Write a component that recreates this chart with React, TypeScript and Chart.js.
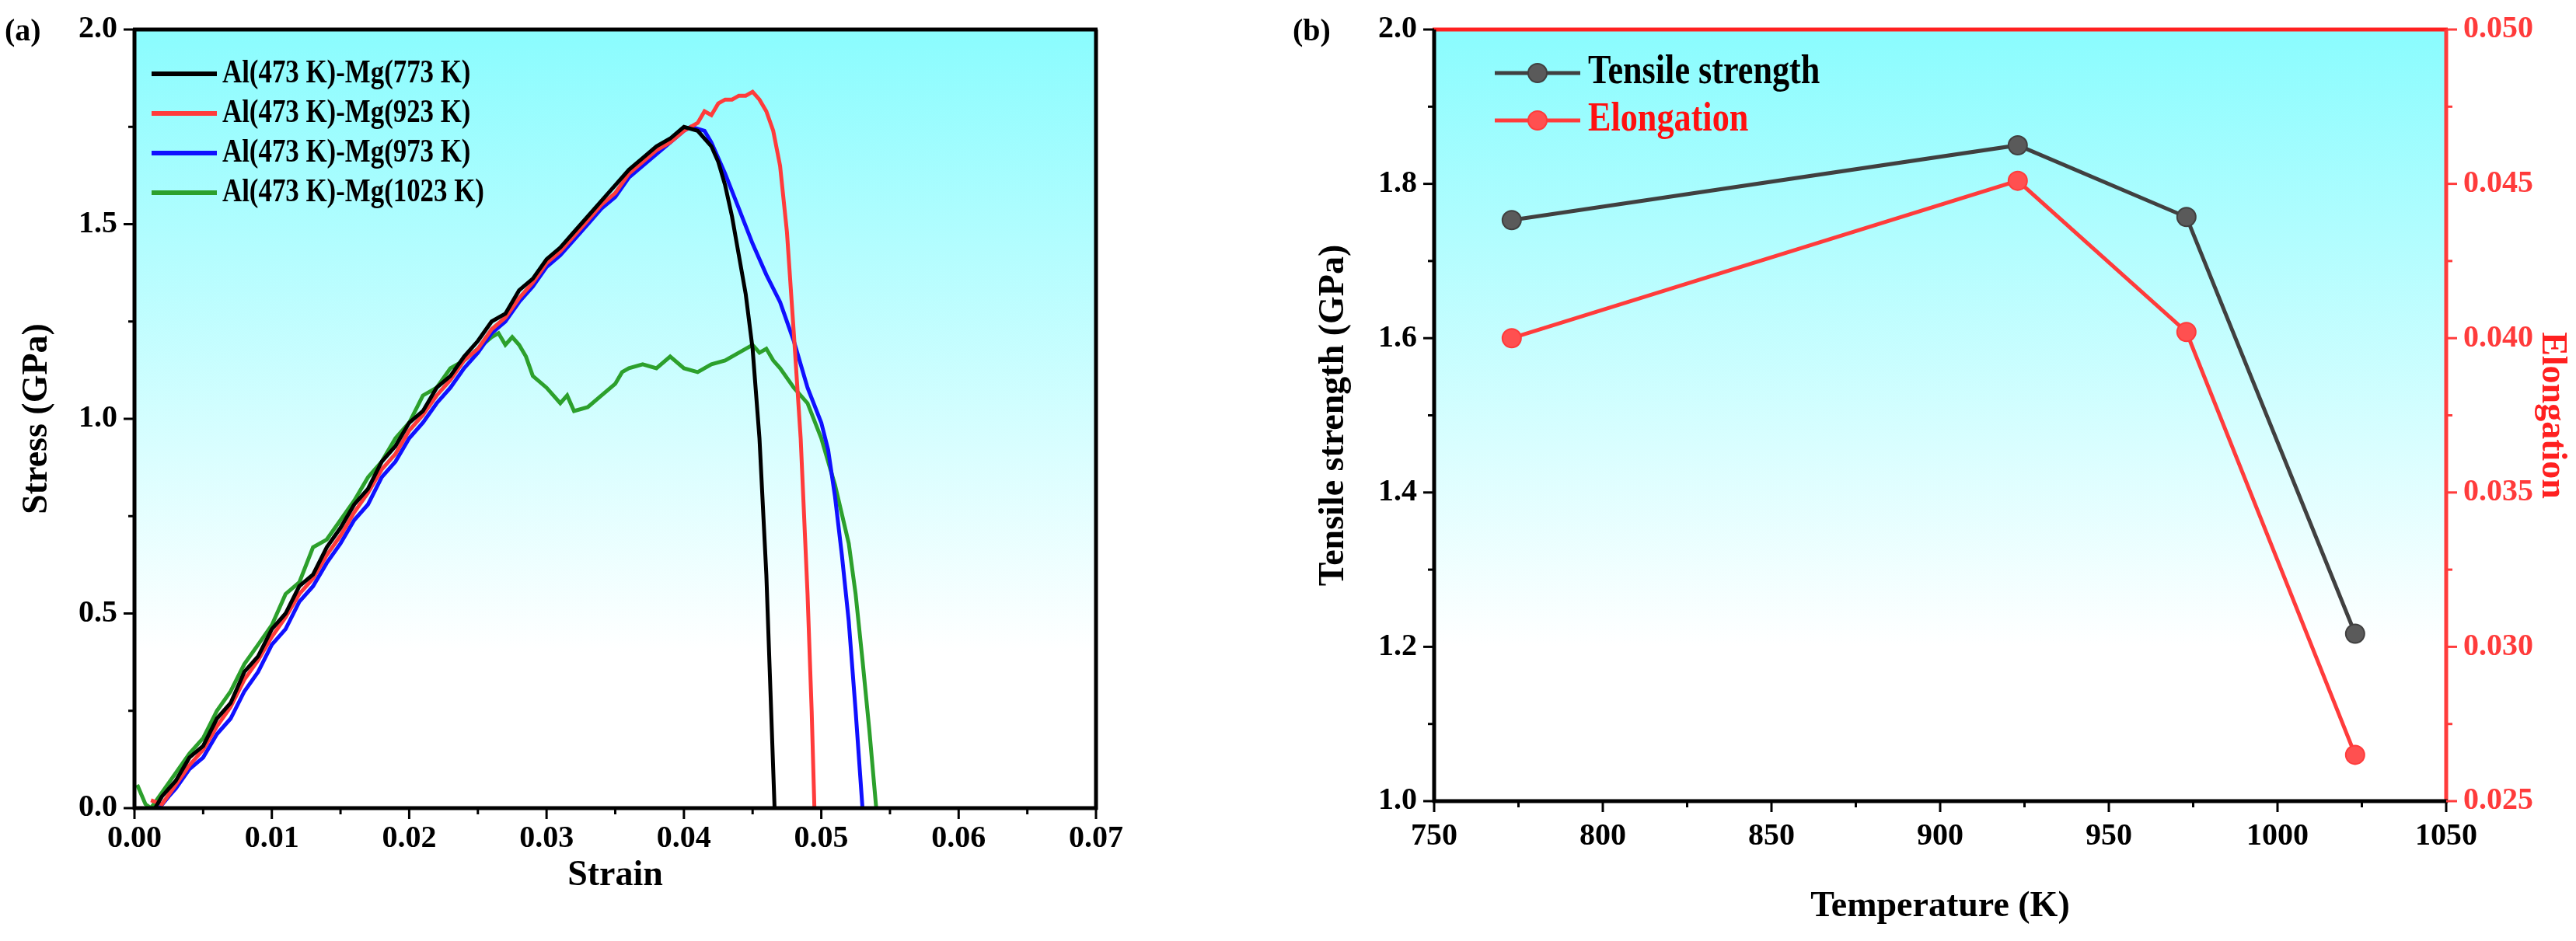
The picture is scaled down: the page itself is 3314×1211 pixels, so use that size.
import React, { useEffect, useRef } from "react";
import { Chart, registerables } from "chart.js";
Chart.register(...registerables);

const FONT = '"Liberation Serif", "Times New Roman", serif';

const labelsA = ["Al(473 K)-Mg(773 K)", "Al(473 K)-Mg(923 K)", "Al(473 K)-Mg(973 K)", "Al(473 K)-Mg(1023 K)"];
const colorsA = ["#000000", "#ff3b3b", "#1010ff", "#2ca02c"];

const curve773: [number, number][] = [[0.0015,0],[0.002,0.03],[0.003,0.07],[0.004,0.13],[0.005,0.16],[0.006,0.23],[0.007,0.27],[0.008,0.35],[0.009,0.39],[0.010,0.46],[0.011,0.50],[0.012,0.57],[0.013,0.60],[0.014,0.67],[0.015,0.72],[0.016,0.78],[0.017,0.82],[0.018,0.89],[0.019,0.93],[0.020,0.99],[0.021,1.02],[0.022,1.08],[0.023,1.11],[0.024,1.16],[0.025,1.20],[0.026,1.25],[0.027,1.27],[0.028,1.33],[0.029,1.36],[0.030,1.41],[0.031,1.44],[0.032,1.48],[0.033,1.52],[0.034,1.56],[0.035,1.60],[0.036,1.64],[0.037,1.67],[0.038,1.70],[0.039,1.72],[0.040,1.75],[0.041,1.74],[0.042,1.70],[0.0425,1.66],[0.043,1.60],[0.0435,1.52],[0.044,1.42],[0.0445,1.32],[0.045,1.18],[0.0455,0.95],[0.046,0.6],[0.0463,0.3],[0.0466,0]];
const curve923: [number, number][] = [[0.0012,0.02],[0.002,0.01],[0.003,0.06],[0.004,0.11],[0.005,0.15],[0.006,0.21],[0.007,0.26],[0.008,0.33],[0.009,0.38],[0.010,0.44],[0.011,0.49],[0.012,0.55],[0.013,0.59],[0.014,0.65],[0.015,0.70],[0.016,0.76],[0.017,0.81],[0.018,0.87],[0.019,0.91],[0.020,0.97],[0.021,1.01],[0.022,1.06],[0.023,1.10],[0.024,1.15],[0.025,1.18],[0.026,1.23],[0.027,1.26],[0.028,1.31],[0.029,1.35],[0.030,1.40],[0.031,1.43],[0.032,1.47],[0.033,1.51],[0.034,1.55],[0.035,1.58],[0.036,1.63],[0.037,1.66],[0.038,1.69],[0.039,1.71],[0.040,1.74],[0.041,1.76],[0.0415,1.79],[0.042,1.78],[0.0425,1.81],[0.043,1.82],[0.0435,1.82],[0.044,1.83],[0.0445,1.83],[0.045,1.84],[0.0455,1.82],[0.046,1.79],[0.0465,1.74],[0.047,1.65],[0.0475,1.48],[0.048,1.22],[0.0485,0.95],[0.049,0.55],[0.0493,0.25],[0.0495,0]];
const curve973: [number, number][] = [[0.0018,0],[0.0025,0.03],[0.003,0.05],[0.004,0.10],[0.005,0.13],[0.006,0.19],[0.007,0.23],[0.008,0.30],[0.009,0.35],[0.010,0.42],[0.011,0.46],[0.012,0.53],[0.013,0.57],[0.014,0.63],[0.015,0.68],[0.016,0.74],[0.017,0.78],[0.018,0.85],[0.019,0.89],[0.020,0.95],[0.021,0.99],[0.022,1.04],[0.023,1.08],[0.024,1.13],[0.025,1.17],[0.026,1.22],[0.027,1.25],[0.028,1.30],[0.029,1.34],[0.030,1.39],[0.031,1.42],[0.032,1.46],[0.033,1.50],[0.034,1.54],[0.035,1.57],[0.036,1.62],[0.037,1.65],[0.038,1.68],[0.039,1.71],[0.040,1.74],[0.0405,1.75],[0.0415,1.74],[0.042,1.71],[0.043,1.63],[0.044,1.54],[0.045,1.45],[0.046,1.37],[0.047,1.30],[0.048,1.20],[0.049,1.08],[0.050,0.99],[0.0505,0.92],[0.051,0.80],[0.0515,0.65],[0.052,0.48],[0.0525,0.25],[0.053,0]];
const curve1023: [number, number][] = [[0.0002,0.06],[0.0008,0.01],[0.0012,0],[0.002,0.04],[0.003,0.09],[0.004,0.14],[0.005,0.18],[0.006,0.25],[0.007,0.30],[0.008,0.37],[0.009,0.42],[0.010,0.47],[0.011,0.55],[0.012,0.58],[0.013,0.67],[0.014,0.69],[0.015,0.74],[0.016,0.79],[0.017,0.85],[0.018,0.89],[0.019,0.95],[0.020,0.99],[0.021,1.06],[0.022,1.08],[0.023,1.13],[0.024,1.15],[0.025,1.18],[0.026,1.21],[0.0265,1.22],[0.027,1.19],[0.0275,1.21],[0.028,1.19],[0.0285,1.16],[0.029,1.11],[0.030,1.08],[0.031,1.04],[0.0315,1.06],[0.032,1.02],[0.033,1.03],[0.034,1.06],[0.035,1.09],[0.0355,1.12],[0.036,1.13],[0.037,1.14],[0.038,1.13],[0.039,1.16],[0.040,1.13],[0.041,1.12],[0.042,1.14],[0.043,1.15],[0.044,1.17],[0.045,1.19],[0.0455,1.17],[0.046,1.18],[0.0465,1.15],[0.047,1.13],[0.048,1.08],[0.049,1.04],[0.050,0.95],[0.051,0.83],[0.052,0.68],[0.0525,0.55],[0.053,0.38],[0.0535,0.2],[0.054,0]];
const curvesA = [curve773, curve923, curve973, curve1023];

const tempsB = [773, 923, 973, 1023];
const tensileB = [1.753, 1.85, 1.757, 1.217];
const elongB = [0.04, 0.0451, 0.0402, 0.0265];

const TICK = { family: FONT, size: 40, weight: "bold" };
const TITLE = { family: FONT, size: 46, weight: "bold" };

function bgPlugin() {
  return {
    id: "bg",
    beforeDatasetsDraw(chart: any) {
      const { ctx, chartArea: a } = chart;
      const g = ctx.createLinearGradient(0, a.top, 0, a.bottom);
      g.addColorStop(0, "#8afcfe");
      g.addColorStop(0.8, "#ffffff");
      g.addColorStop(1, "#ffffff");
      ctx.save();
      ctx.fillStyle = g;
      ctx.fillRect(a.left, a.top, a.right - a.left, a.bottom - a.top);
      ctx.restore();
    },
  };
}

function drawTicks(ctx: any, scale: any, min: number, max: number, step: number, side: string, color: string) {
  ctx.save();
  ctx.strokeStyle = color;
  ctx.lineWidth = 3;
  const n = Math.round((max - min) / step);
  for (let i = 0; i <= n; i++) {
    const v = min + i * step;
    const len = i % 2 === 0 ? 14 : 8;
    const p = scale.getPixelForValue(v);
    ctx.beginPath();
    if (side === "bottom") { ctx.moveTo(p, scale.top); ctx.lineTo(p, scale.top + len); }
    if (side === "left") { ctx.moveTo(scale.right, p); ctx.lineTo(scale.right - len, p); }
    if (side === "right") { ctx.moveTo(scale.left, p); ctx.lineTo(scale.left + len, p); }
    ctx.stroke();
  }
  ctx.restore();
}

function frame(ctx: any, a: any, cols: string[]) {
  ctx.save();
  ctx.lineWidth = 5;
  const seg = (x1: number, y1: number, x2: number, y2: number, c: string) => {
    ctx.strokeStyle = c; ctx.beginPath(); ctx.moveTo(x1, y1); ctx.lineTo(x2, y2); ctx.stroke();
  };
  seg(a.left - 2, a.top, a.right + 2, a.top, cols[0]);
  seg(a.right, a.top, a.right, a.bottom + 2, cols[1]);
  seg(a.left - 2, a.bottom, a.right + 2, a.bottom, cols[2]);
  seg(a.left, a.top, a.left, a.bottom + 2, cols[3]);
  ctx.restore();
}

function squeezeText(ctx: any, t: string, x: number, y: number, sx: number) {
  ctx.save();
  ctx.translate(x, y);
  ctx.scale(sx, 1);
  ctx.fillText(t, 0, 0);
  ctx.restore();
}

function ChartA() {
  const ref = useRef<HTMLCanvasElement>(null);
  useEffect(() => {
    const c = new Chart(ref.current!, {
      type: "line",
      data: {
        datasets: curvesA.map((d, i) => ({
          label: labelsA[i],
          data: d.map(([x, y]) => ({ x, y })),
          borderColor: colorsA[i],
          borderWidth: 5,
          pointRadius: 0,
          tension: 0,
        })),
      },
      options: {
        responsive: false, animation: false, devicePixelRatio: 1,
        layout: { padding: { top: 38, right: 247, left: 0, bottom: 0 } },
        plugins: { legend: { display: false }, tooltip: { enabled: false } },
        scales: {
          x: {
            type: "linear", min: 0, max: 0.07,
            afterFit: (s: any) => { s.height = 171; },
            grid: { display: false }, border: { display: false },
            ticks: { stepSize: 0.01, padding: 8, color: "#000", font: TICK, callback: (v: any) => Number(v).toFixed(2) },
            title: { display: true, text: "Strain", color: "#000", font: TITLE, padding: { top: 10, bottom: 56 } },
          },
          y: {
            min: 0, max: 2,
            afterFit: (s: any) => { s.width = 173; },
            grid: { display: false }, border: { display: false },
            ticks: { stepSize: 0.5, padding: 14, color: "#000", font: TICK, callback: (v: any) => Number(v).toFixed(1) },
            title: { display: true, text: "Stress (GPa)", color: "#000", font: TITLE, padding: { top: 21, bottom: 10 } },
          },
        },
      },
      plugins: [bgPlugin(), {
        id: "deco",
        afterDraw(chart: any) {
          const { ctx, chartArea: a, scales } = chart;
          frame(ctx, a, ["#000", "#000", "#000", "#000"]);
          drawTicks(ctx, scales.x, 0, 0.07, 0.005, "bottom", "#000");
          drawTicks(ctx, scales.y, 0, 2, 0.25, "left", "#000");
          ctx.save();
          ctx.font = `bold 40px ${FONT}`;
          ctx.fillStyle = "#000";
          ctx.textBaseline = "middle";
          ctx.fillText("(a)", 6, 42);
          ctx.font = `bold 42px ${FONT}`;
          labelsA.forEach((t, i) => {
            const y = a.top + 57 + i * 51;
            ctx.strokeStyle = colorsA[i]; ctx.lineWidth = 6;
            ctx.beginPath(); ctx.moveTo(a.left + 22, y); ctx.lineTo(a.left + 106, y); ctx.stroke();
            ctx.fillStyle = "#000";
            squeezeText(ctx, t, a.left + 113, y, 0.83);
          });
          ctx.restore();
        },
      }],
    } as any);
    return () => c.destroy();
  }, []);
  return <canvas ref={ref} width={1657} height={1211} style={{ position: "absolute", left: 0, top: 0 }} />;
}

function ChartB() {
  const ref = useRef<HTMLCanvasElement>(null);
  useEffect(() => {
    const ds = (label: string, data: number[], col: string, fill: string, axis: string) => ({
      label, data: tempsB.map((t, i) => ({ x: t, y: data[i] })), yAxisID: axis,
      borderColor: col, borderWidth: 5, pointRadius: 12, pointBackgroundColor: fill,
      pointBorderColor: col, pointBorderWidth: 2, tension: 0,
    });
    const c = new Chart(ref.current!, {
      type: "line",
      data: { datasets: [ds("Tensile strength", tensileB, "#404040", "#5a5a5a", "y"), ds("Elongation", elongB, "#ff3b3b", "#ff5050", "y1")] },
      options: {
        responsive: false, animation: false, devicePixelRatio: 1,
        layout: { padding: { top: 38, right: 0, left: 0, bottom: 0 } },
        plugins: { legend: { display: false }, tooltip: { enabled: false } },
        scales: {
          x: {
            type: "linear", min: 750, max: 1050,
            afterFit: (s: any) => { s.height = 180; },
            grid: { display: false }, border: { display: false },
            ticks: { stepSize: 50, padding: 14, color: "#000", font: TICK, callback: (v: any) => String(v) },
            title: { display: true, text: "Temperature (K)", color: "#000", font: TITLE, padding: { top: 10, bottom: 16 } },
          },
          y: {
            position: "left", min: 1, max: 2,
            afterFit: (s: any) => { s.width = 188; },
            grid: { display: false }, border: { display: false },
            ticks: { stepSize: 0.2, padding: 14, color: "#000", font: TICK, callback: (v: any) => Number(v).toFixed(1) },
            title: { display: true, text: "Tensile strength (GPa)", color: "#000", font: TITLE, padding: { top: 32, bottom: 6 } },
          },
          y1: {
            position: "right", min: 0.025, max: 0.05,
            afterFit: (s: any) => { s.width = 167; },
            grid: { display: false }, border: { display: false },
            ticks: { stepSize: 0.005, padding: 14, color: "#ff3b3b", font: TICK, callback: (v: any) => Number(v).toFixed(3) },
            title: { display: true, text: "Elongation", color: "#ff2020", font: TITLE, padding: { top: 4, bottom: 12 } },
          },
        },
      },
      plugins: [bgPlugin(), {
        id: "deco",
        afterDraw(chart: any) {
          const { ctx, chartArea: a, scales } = chart;
          frame(ctx, a, ["#ff2020", "#ff3b3b", "#000", "#000"]);
          drawTicks(ctx, scales.x, 750, 1050, 25, "bottom", "#000");
          drawTicks(ctx, scales.y, 1, 2, 0.1, "left", "#000");
          drawTicks(ctx, scales.y1, 0.025, 0.05, 0.0025, "right", "#ff3b3b");
          ctx.save();
          ctx.font = `bold 40px ${FONT}`;
          ctx.fillStyle = "#000";
          ctx.textBaseline = "middle";
          ctx.fillText("(b)", 6, 42);
          const items = [["Tensile strength", "#404040", "#5a5a5a", "#000"], ["Elongation", "#ff3b3b", "#ff5050", "#ff1010"]];
          items.forEach(([t, col, fill, tc], i) => {
            const y = a.top + 56 + i * 61;
            ctx.strokeStyle = col; ctx.lineWidth = 5;
            ctx.beginPath(); ctx.moveTo(a.left + 78, y); ctx.lineTo(a.left + 188, y); ctx.stroke();
            ctx.lineWidth = 2;
            ctx.fillStyle = fill; ctx.beginPath(); ctx.arc(a.left + 133, y, 12, 0, Math.PI * 2); ctx.fill(); ctx.stroke();
            ctx.font = `bold 52px ${FONT}`;
            ctx.fillStyle = tc;
            squeezeText(ctx, t, a.left + 198, y, 0.85);
          });
          ctx.restore();
        },
      }],
    } as any);
    return () => c.destroy();
  }, []);
  return <canvas ref={ref} width={1657} height={1211} style={{ position: "absolute", left: 1657, top: 0 }} />;
}

export default function App() {
  return (
    <div style={{ position: "fixed", left: 0, top: 0, width: 3314, height: 1211, background: "#fff" }}>
      <ChartA />
      <ChartB />
    </div>
  );
}
